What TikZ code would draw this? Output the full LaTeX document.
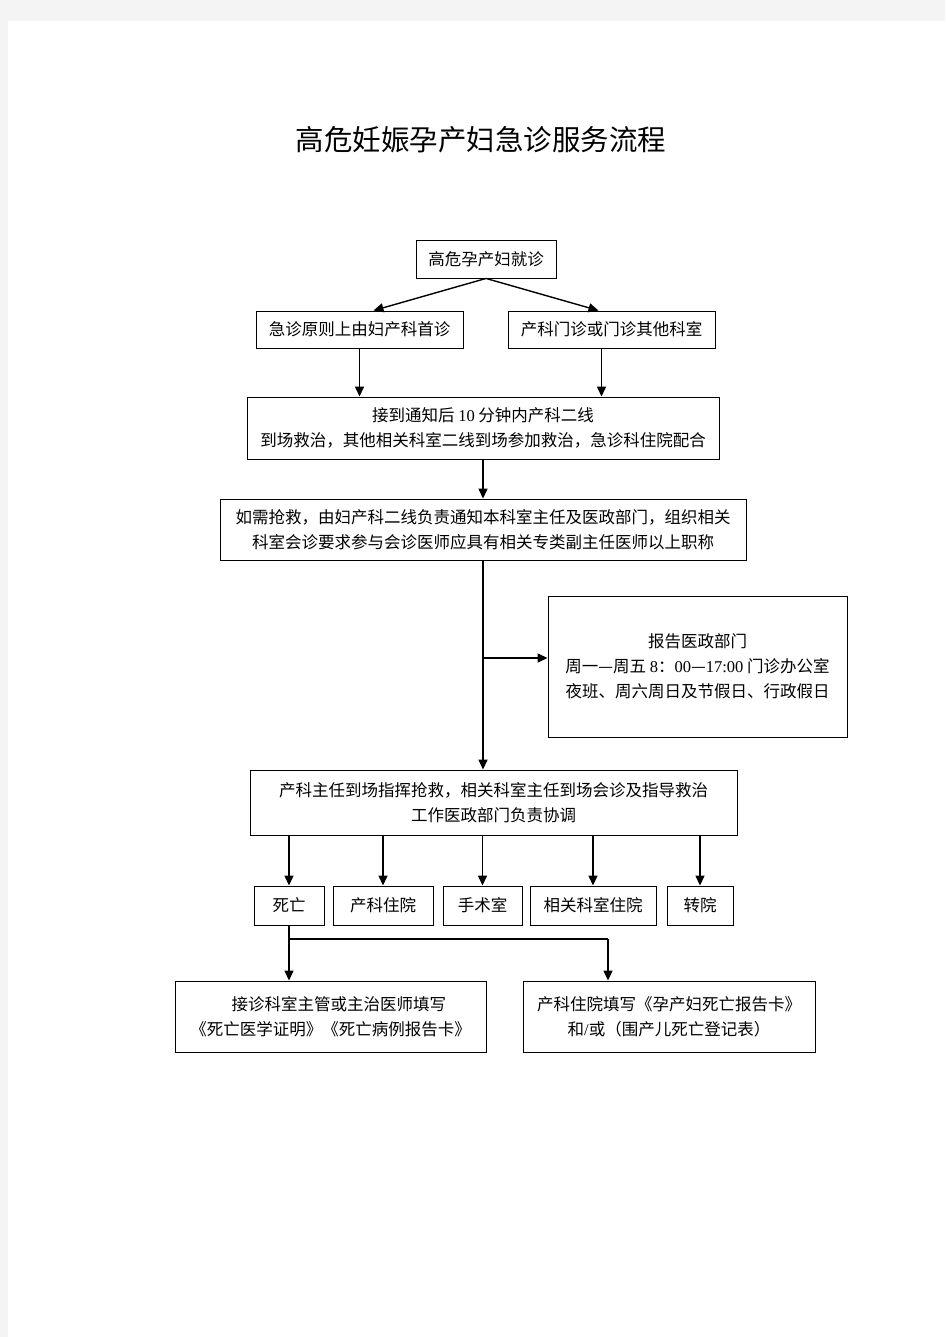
\documentclass[tikz,border=0pt]{standalone}
\usepackage{fontspec}
\usepackage{tikz}
\usetikzlibrary{arrows.meta, positioning, calc}
\newfontfamily\cjk{Noto Sans CJK SC}
\newfontfamily\lat{Liberation Serif}
\definecolor{pagegray}{RGB}{244,244,244}

\begin{document}
\begin{tikzpicture}[x=1pt, y=-1pt,
    box/.style={draw, line width=0.9pt, inner sep=0pt, align=center,
                font=\cjk\fontsize{16.5}{25}\selectfont},
    link/.style={line width=1.4pt},
    arrowlink/.style={line width=1.4pt, -{Triangle[length=10pt, width=9pt]}}]
    % Page
    \fill[pagegray] (0,0) rectangle (945,1337);
    \fill[white] (8,21) rectangle (945,1337);

    % Title
    \node[font=\cjk\fontsize{28.5}{32}\selectfont] (title) at (481,140) {高危妊娠孕产妇急诊服务流程};

    % Boxes
    \node[box, minimum width=140, minimum height=38] (start) at (486,259) {高危孕产妇就诊};
    \node[box, minimum width=207, minimum height=37] (edfirst) at (359.5,329.5) {急诊原则上由妇产科首诊};
    \node[box, minimum width=207, minimum height=37] (clinic) at (611.5,329.5) {产科门诊或门诊其他科室};
    \node[box, minimum width=472, minimum height=62] (notify) at (483,428)
        {接到通知后 {\lat 10} 分钟内产科二线\\到场救治，其他相关科室二线到场参加救治，急诊科住院配合};
    \node[box, minimum width=526, minimum height=61] (rescue) at (483,529.5)
        {如需抢救，由妇产科二线负责通知本科室主任及医政部门，组织相关\\科室会诊要求参与会诊医师应具有相关专类副主任医师以上职称};
    \node[box, minimum width=299, minimum height=141] (report) at (697.5,666.5)
        {报告医政部门\\周一—周五 {\lat 8}：{\lat 00}—{\lat 17:00} 门诊办公室\\夜班、周六周日及节假日、行政假日};
    \node[box, minimum width=487, minimum height=65] (direct) at (493.5,802.5)
        {产科主任到场指挥抢救，相关科室主任到场会诊及指导救治\\工作医政部门负责协调};

    % Outcomes
    \node[box, minimum width=70, minimum height=39] (death) at (289,905.5) {死亡};
    \node[box, minimum width=100, minimum height=39] (obsward) at (383,905.5) {产科住院};
    \node[box, minimum width=79, minimum height=39] (theatre) at (482.5,905.5) {手术室};
    \node[box, minimum width=126, minimum height=39] (relward) at (593,905.5) {相关科室住院};
    \node[box, minimum width=66, minimum height=39] (transfer) at (700,905.5) {转院};

    % Records after death
    \node[box, minimum width=311, minimum height=71] (deathcert) at (330.5,1016.5)
        {\quad 接诊科室主管或主治医师填写\\《死亡医学证明》《死亡病例报告卡》};
    \node[box, minimum width=292, minimum height=71] (obsreport) at (669,1016.5)
        {产科住院填写《孕产妇死亡报告卡》\\和{\lat /}或（围产儿死亡登记表）};

    % Connectors
    \draw[arrowlink] (start.south) -- ($(edfirst.north)+(14,0)$);
    \draw[arrowlink] (start.south) -- ($(clinic.north)+(-13,0)$);
    \draw[arrowlink] (edfirst.south) -- (edfirst.south |- notify.north);
    \draw[arrowlink] ($(clinic.south)+(-10,0)$) -- ($(clinic.south |- notify.north)+(-10,0)$);
    \draw[arrowlink] (notify.south) -- (rescue.north);
    \draw[arrowlink] (rescue.south) -- (rescue.south |- direct.north);
    \coordinate (junction) at (rescue.south |- 0,658);
    \draw[arrowlink] (junction) -- (junction -| report.west);

    \foreach \n in {death, obsward, theatre, relward, transfer}
        \draw[arrowlink] (\n.north |- direct.south) -- (\n.north);

    \coordinate (split) at (death.south |- 0,939);
    \coordinate (splitright) at (608,939);
    \draw[link] (death.south) -- (split) -- (splitright);
    \draw[arrowlink] (split) -- (split |- deathcert.north);
    \draw[arrowlink] (splitright) -- (splitright |- obsreport.north);
\end{tikzpicture}
\end{document}
